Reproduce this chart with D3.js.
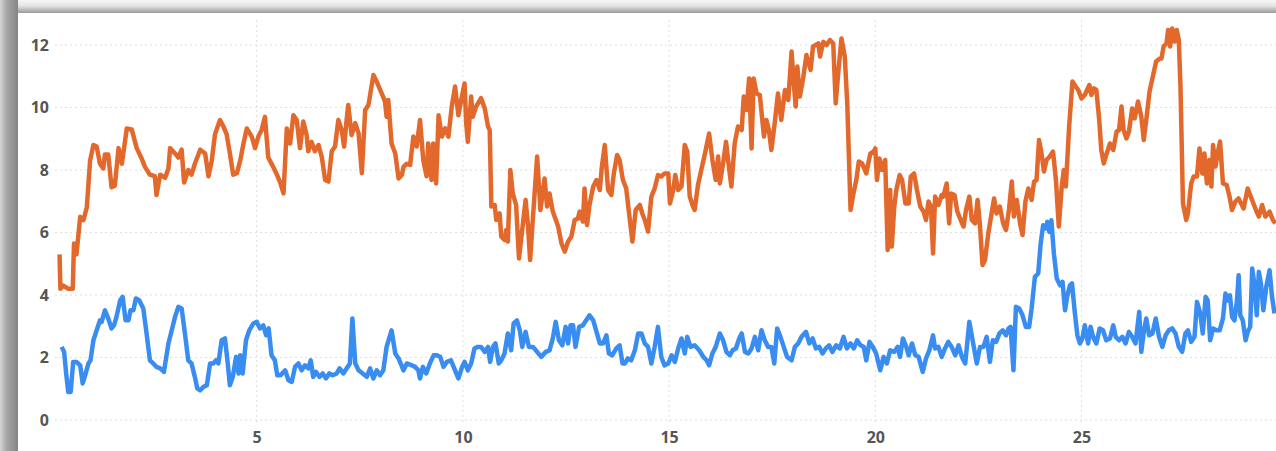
<!DOCTYPE html>
<html>
<head>
<meta charset="utf-8">
<script src="https://cdn.jsdelivr.net/npm/d3@7"></script>
<style>
  html, body { margin: 0; padding: 0; background: #ffffff; }
  svg { display: block; }
</style>
</head>
<body>
<div id="chart"></div>
<script>
// ---- data (day of month, value) ----
const xTicks = [5, 10, 15, 20, 25];
const yTicks = [0, 2, 4, 6, 8, 10, 12];

const orangeSeries = [[0.22,5.3],[0.24,4.2],[0.31,4.3],[0.43,4.2],[0.54,4.2],[0.57,5.65],[0.63,5.3],[0.72,6.5],[0.80,6.4],[0.88,6.8],[0.96,8.3],[1.04,8.8],[1.12,8.75],[1.20,8.2],[1.28,8.05],[1.32,8.5],[1.40,8.5],[1.48,7.45],[1.56,7.5],[1.65,8.7],[1.73,8.2],[1.85,9.33],[1.97,9.3],[2.09,8.7],[2.21,8.37],[2.29,8.1],[2.41,7.85],[2.53,7.8],[2.57,7.2],[2.66,7.85],[2.78,7.75],[2.86,8.05],[2.90,8.7],[3.02,8.53],[3.10,8.4],[3.18,8.65],[3.24,7.6],[3.34,8.0],[3.42,7.85],[3.50,8.2],[3.63,8.65],[3.75,8.53],[3.83,7.8],[3.91,8.3],[3.99,9.15],[4.11,9.6],[4.19,9.4],[4.27,9.15],[4.35,8.53],[4.43,7.85],[4.52,7.9],[4.60,8.3],[4.68,8.85],[4.76,9.33],[4.88,9.07],[4.96,8.7],[5.04,9.07],[5.12,9.28],[5.20,9.7],[5.28,8.4],[5.40,8.1],[5.49,7.85],[5.57,7.6],[5.65,7.25],[5.73,9.33],[5.81,8.85],[5.89,9.75],[5.97,9.6],[6.05,8.7],[6.13,9.55],[6.21,9.12],[6.25,8.6],[6.33,8.9],[6.41,8.6],[6.50,8.8],[6.58,8.4],[6.66,7.68],[6.74,7.63],[6.82,8.6],[6.90,8.75],[6.98,9.6],[7.06,9.28],[7.12,8.75],[7.18,9.6],[7.22,10.08],[7.30,9.12],[7.39,9.5],[7.47,9.17],[7.55,7.9],[7.63,9.92],[7.71,10.08],[7.83,11.04],[7.91,10.83],[8.03,10.45],[8.11,10.2],[8.15,9.7],[8.19,10.24],[8.27,8.85],[8.36,8.53],[8.44,7.73],[8.52,7.84],[8.56,8.1],[8.64,8.2],[8.72,8.16],[8.80,9.07],[8.88,8.75],[8.96,9.6],[9.04,8.3],[9.12,7.8],[9.16,8.85],[9.24,7.68],[9.28,8.85],[9.35,7.57],[9.41,9.75],[9.49,9.07],[9.57,9.33],[9.65,9.07],[9.73,10.03],[9.81,10.67],[9.89,9.75],[9.96,10.24],[10.04,10.77],[10.08,9.5],[10.12,8.9],[10.20,10.35],[10.24,9.7],[10.32,10.03],[10.44,10.3],[10.53,9.97],[10.61,9.39],[10.65,9.28],[10.69,6.83],[10.77,6.88],[10.81,6.4],[10.89,6.61],[10.93,5.87],[11.01,5.76],[11.05,6.08],[11.09,5.71],[11.15,8.0],[11.21,7.25],[11.29,6.88],[11.36,5.17],[11.42,5.87],[11.52,7.04],[11.58,6.19],[11.63,5.12],[11.70,6.51],[11.80,8.43],[11.88,6.72],[11.98,7.73],[12.04,6.83],[12.10,7.25],[12.18,6.67],[12.31,6.19],[12.39,5.65],[12.47,5.39],[12.55,5.71],[12.63,5.87],[12.71,6.4],[12.79,6.45],[12.83,6.67],[12.91,6.35],[12.95,7.41],[13.01,6.24],[13.07,6.88],[13.16,7.47],[13.24,7.68],[13.32,7.36],[13.37,8.11],[13.44,8.8],[13.52,7.36],[13.60,7.2],[13.66,7.89],[13.74,8.48],[13.80,8.32],[13.88,7.68],[13.96,7.41],[14.03,6.61],[14.11,5.71],[14.19,6.72],[14.29,6.88],[14.35,6.61],[14.41,6.4],[14.49,6.03],[14.57,7.15],[14.65,7.41],[14.73,7.84],[14.81,7.79],[14.89,7.89],[14.98,7.89],[15.02,6.93],[15.10,7.36],[15.15,7.84],[15.22,7.36],[15.30,7.47],[15.38,8.8],[15.44,8.59],[15.50,7.15],[15.58,6.83],[15.62,6.72],[15.70,7.52],[15.78,8.0],[15.87,8.53],[15.97,9.17],[16.05,8.32],[16.13,7.68],[16.19,8.43],[16.23,7.57],[16.31,8.21],[16.38,8.9],[16.46,8.0],[16.51,7.47],[16.59,8.85],[16.67,9.39],[16.76,9.28],[16.81,10.35],[16.88,9.92],[16.94,10.93],[17.00,8.69],[17.05,10.93],[17.12,10.45],[17.20,10.4],[17.30,9.07],[17.36,9.6],[17.42,9.28],[17.48,8.64],[17.56,9.49],[17.64,10.45],[17.72,9.6],[17.81,10.56],[17.89,10.24],[17.97,11.79],[18.03,10.67],[18.07,10.03],[18.11,11.31],[18.17,10.35],[18.25,10.93],[18.33,11.68],[18.43,11.2],[18.49,11.95],[18.62,12.05],[18.66,11.63],[18.74,12.1],[18.82,12.0],[18.90,12.16],[18.98,12.05],[19.04,10.13],[19.10,11.09],[19.18,12.21],[19.26,11.63],[19.32,10.13],[19.40,6.72],[19.47,7.25],[19.54,7.68],[19.60,8.27],[19.68,8.21],[19.78,7.89],[19.88,8.53],[19.96,8.59],[20.00,8.69],[20.04,7.68],[20.10,8.37],[20.16,8.0],[20.24,8.32],[20.30,5.44],[20.36,7.36],[20.40,5.55],[20.46,6.83],[20.51,7.36],[20.59,7.84],[20.65,7.68],[20.73,6.93],[20.81,6.93],[20.86,7.79],[20.94,7.89],[21.01,7.36],[21.09,6.83],[21.17,6.67],[21.23,6.4],[21.29,6.99],[21.35,6.83],[21.40,5.33],[21.45,7.15],[21.53,6.88],[21.61,7.2],[21.65,7.15],[21.73,7.57],[21.79,6.29],[21.84,7.25],[21.92,7.2],[21.99,6.67],[22.07,6.4],[22.14,6.19],[22.20,6.72],[22.28,7.15],[22.34,6.4],[22.42,6.29],[22.48,7.04],[22.54,6.19],[22.60,4.96],[22.66,5.12],[22.74,5.97],[22.82,6.61],[22.88,7.09],[22.94,6.61],[23.02,6.83],[23.10,6.29],[23.17,6.08],[23.24,6.72],[23.31,7.63],[23.36,6.51],[23.43,7.04],[23.51,6.29],[23.57,5.92],[23.64,6.99],[23.71,7.41],[23.79,7.04],[23.85,7.63],[23.91,7.68],[23.97,8.96],[24.03,8.53],[24.09,7.95],[24.15,8.32],[24.23,8.43],[24.31,8.59],[24.38,7.68],[24.45,6.19],[24.52,7.47],[24.57,8.0],[24.62,7.47],[24.70,9.39],[24.78,10.83],[24.86,10.67],[24.92,10.56],[25.00,10.29],[25.08,10.4],[25.19,10.72],[25.24,10.4],[25.30,10.61],[25.36,10.56],[25.43,9.6],[25.48,8.64],[25.54,8.21],[25.60,8.48],[25.69,8.85],[25.77,8.64],[25.85,9.23],[25.91,9.28],[25.97,10.03],[26.02,9.28],[26.09,9.01],[26.15,9.23],[26.23,9.97],[26.29,9.65],[26.37,10.19],[26.45,9.71],[26.51,8.96],[26.57,9.6],[26.65,10.51],[26.73,10.99],[26.81,11.47],[26.90,11.57],[26.94,11.57],[26.99,11.95],[27.06,12.05],[27.10,12.48],[27.15,11.95],[27.20,12.53],[27.26,12.11],[27.31,12.48],[27.36,12.16],[27.40,10.67],[27.46,6.93],[27.54,6.4],[27.58,6.61],[27.66,7.57],[27.72,7.79],[27.80,7.79],[27.86,8.69],[27.93,7.89],[27.98,8.53],[28.04,7.57],[28.10,8.32],[28.15,7.47],[28.19,8.8],[28.25,8.11],[28.31,8.59],[28.36,8.91],[28.43,7.57],[28.52,7.52],[28.59,7.15],[28.65,6.72],[28.73,6.99],[28.81,7.09],[28.93,6.77],[29.03,7.41],[29.15,6.99],[29.23,6.72],[29.30,6.51],[29.38,6.88],[29.46,6.51],[29.56,6.67],[29.64,6.4],[29.70,6.29]];

const blueSeries = [[0.27,2.34],[0.33,2.18],[0.38,1.49],[0.43,0.9],[0.49,0.9],[0.55,1.86],[0.63,1.86],[0.72,1.75],[0.78,1.17],[0.84,1.43],[0.92,1.81],[0.97,1.91],[1.04,2.55],[1.12,2.87],[1.20,3.19],[1.24,3.14],[1.32,3.51],[1.40,3.25],[1.48,2.93],[1.54,3.03],[1.60,3.3],[1.69,3.83],[1.75,3.94],[1.82,3.19],[1.89,3.19],[1.94,3.51],[2.01,3.51],[2.07,3.89],[2.15,3.83],[2.25,3.57],[2.33,2.77],[2.41,1.91],[2.49,1.81],[2.57,1.7],[2.66,1.65],[2.75,1.54],[2.86,2.45],[2.94,2.87],[3.02,3.3],[3.10,3.62],[3.18,3.57],[3.26,2.77],[3.34,1.91],[3.42,1.81],[3.50,1.38],[3.56,1.01],[3.63,0.95],[3.71,1.06],[3.79,1.11],[3.87,1.81],[3.95,1.81],[4.01,1.91],[4.07,1.81],[4.15,2.55],[4.23,2.61],[4.29,1.91],[4.35,1.11],[4.42,1.38],[4.50,2.02],[4.56,1.49],[4.60,2.07],[4.66,1.49],[4.74,2.55],[4.82,2.87],[4.92,3.09],[5.00,3.14],[5.08,2.93],[5.16,3.03],[5.23,2.71],[5.29,2.93],[5.36,2.07],[5.44,1.91],[5.50,1.43],[5.58,1.43],[5.69,1.59],[5.77,1.27],[5.85,1.22],[5.93,1.7],[6.01,1.81],[6.09,1.59],[6.17,1.75],[6.25,1.65],[6.31,1.91],[6.37,1.38],[6.44,1.54],[6.52,1.38],[6.60,1.49],[6.68,1.33],[6.76,1.49],[6.84,1.43],[6.94,1.49],[7.01,1.65],[7.10,1.49],[7.18,1.65],[7.26,1.81],[7.32,3.25],[7.39,1.81],[7.47,1.59],[7.57,1.49],[7.67,1.38],[7.75,1.65],[7.83,1.33],[7.91,1.59],[7.99,1.43],[8.07,1.59],[8.15,2.34],[8.27,2.87],[8.36,2.13],[8.44,1.97],[8.56,1.59],[8.64,1.81],[8.76,1.75],[8.84,1.7],[8.92,1.59],[8.96,1.33],[9.03,1.7],[9.11,1.49],[9.20,1.81],[9.29,2.07],[9.37,2.07],[9.45,2.02],[9.53,1.7],[9.61,1.86],[9.71,1.91],[9.81,1.59],[9.89,1.33],[9.98,1.7],[10.04,1.86],[10.12,1.59],[10.20,1.81],[10.28,2.29],[10.36,2.34],[10.44,2.34],[10.53,2.18],[10.61,2.34],[10.66,1.86],[10.73,2.34],[10.79,2.45],[10.87,1.81],[10.93,1.91],[11.01,2.13],[11.09,2.77],[11.17,2.23],[11.23,3.09],[11.31,3.19],[11.38,2.87],[11.44,2.34],[11.52,2.82],[11.60,2.34],[11.70,2.34],[11.80,2.18],[11.90,2.02],[12.01,2.18],[12.10,2.23],[12.18,2.61],[12.25,3.14],[12.33,2.55],[12.41,2.39],[12.49,2.98],[12.55,2.45],[12.61,3.03],[12.67,3.03],[12.73,2.34],[12.82,2.98],[12.91,3.03],[12.99,3.19],[13.07,3.35],[13.16,3.19],[13.24,2.82],[13.32,2.45],[13.40,2.45],[13.48,2.71],[13.54,2.13],[13.62,2.07],[13.72,2.29],[13.80,2.39],[13.87,1.81],[13.93,1.81],[14.00,1.97],[14.08,1.91],[14.17,2.23],[14.25,2.77],[14.33,2.77],[14.41,2.45],[14.49,2.34],[14.57,1.81],[14.65,2.34],[14.73,2.98],[14.81,2.02],[14.89,1.75],[14.98,1.81],[15.06,2.07],[15.14,1.86],[15.22,2.29],[15.30,2.61],[15.38,2.13],[15.44,2.66],[15.52,2.34],[15.62,2.39],[15.73,2.23],[15.83,2.02],[15.91,1.91],[15.97,1.75],[16.05,2.13],[16.13,2.34],[16.23,2.77],[16.31,2.55],[16.39,2.18],[16.47,2.07],[16.54,2.23],[16.62,2.29],[16.70,2.61],[16.76,2.77],[16.84,2.18],[16.92,2.13],[17.00,2.29],[17.08,2.66],[17.16,2.23],[17.24,2.87],[17.32,2.55],[17.40,2.34],[17.48,2.34],[17.55,1.81],[17.62,2.93],[17.70,2.66],[17.78,2.34],[17.86,2.02],[17.97,1.91],[18.05,2.34],[18.13,2.45],[18.21,2.66],[18.32,2.82],[18.40,2.45],[18.48,2.61],[18.56,2.29],[18.64,2.34],[18.72,2.13],[18.80,2.29],[18.88,2.39],[18.96,2.18],[19.05,2.39],[19.14,2.29],[19.23,2.66],[19.31,2.29],[19.40,2.45],[19.48,2.29],[19.56,2.55],[19.64,2.39],[19.72,2.34],[19.78,1.91],[19.86,2.5],[19.94,2.34],[20.02,2.13],[20.12,1.59],[20.20,2.02],[20.28,1.81],[20.36,2.23],[20.46,2.18],[20.54,2.34],[20.60,2.02],[20.67,2.61],[20.75,2.34],[20.81,2.07],[20.89,2.45],[20.97,2.07],[21.05,2.02],[21.15,1.54],[21.23,1.97],[21.31,2.23],[21.40,2.71],[21.45,2.29],[21.53,2.34],[21.61,2.02],[21.69,2.29],[21.77,2.5],[21.85,2.34],[21.94,2.07],[22.02,2.39],[22.10,2.02],[22.18,1.81],[22.28,3.14],[22.36,2.55],[22.46,1.81],[22.54,2.34],[22.62,2.34],[22.70,2.66],[22.78,1.86],[22.85,2.55],[22.93,2.5],[23.01,2.77],[23.09,2.87],[23.17,2.71],[23.23,2.93],[23.28,2.98],[23.35,1.59],[23.41,3.62],[23.49,3.57],[23.57,3.35],[23.65,2.98],[23.73,2.98],[23.79,3.57],[23.87,4.58],[23.95,4.69],[24.01,5.65],[24.07,6.23],[24.14,6.13],[24.17,6.34],[24.22,6.02],[24.27,6.39],[24.33,5.33],[24.40,4.53],[24.48,4.31],[24.54,4.42],[24.60,3.51],[24.65,3.94],[24.72,4.31],[24.77,4.37],[24.84,3.41],[24.90,2.71],[24.96,2.45],[25.02,2.61],[25.08,3.03],[25.16,2.45],[25.22,2.98],[25.28,2.66],[25.36,2.45],[25.44,2.93],[25.52,2.87],[25.60,2.55],[25.69,2.61],[25.77,3.03],[25.83,2.66],[25.91,2.55],[25.99,2.66],[26.07,2.45],[26.15,2.82],[26.23,2.66],[26.31,2.45],[26.40,3.46],[26.45,2.18],[26.51,2.82],[26.57,3.25],[26.64,2.71],[26.72,2.77],[26.80,3.25],[26.88,2.66],[26.96,2.34],[27.04,2.71],[27.12,2.87],[27.20,2.93],[27.28,2.77],[27.36,2.34],[27.44,2.18],[27.52,2.77],[27.58,2.87],[27.66,2.5],[27.74,2.66],[27.80,3.78],[27.88,3.41],[27.94,2.77],[28.01,3.94],[28.06,3.83],[28.12,2.55],[28.19,2.93],[28.27,2.87],[28.35,2.87],[28.43,3.25],[28.49,4.05],[28.55,3.83],[28.60,3.99],[28.65,3.3],[28.71,3.19],[28.77,3.83],[28.81,4.63],[28.85,3.35],[28.91,3.19],[28.98,2.55],[29.03,2.82],[29.09,2.98],[29.14,4.85],[29.19,4.37],[29.25,3.35],[29.30,4.74],[29.35,4.37],[29.41,3.51],[29.48,4.26],[29.56,4.79],[29.62,3.94],[29.68,3.41]];

// ---- drawing ----
const W = 1276, H = 451;
const svg = d3.select("#chart").append("svg").attr("width", W).attr("height", H);
const defs = svg.append("defs");

const gTop = defs.append("linearGradient").attr("id", "gTop").attr("x1", 0).attr("y1", 0).attr("x2", 0).attr("y2", 1);
gTop.append("stop").attr("offset", "0%").attr("stop-color", "#f7f7f7");
gTop.append("stop").attr("offset", "45%").attr("stop-color", "#e4e4e4");
gTop.append("stop").attr("offset", "100%").attr("stop-color", "#9a9a9a");
const gLeft = defs.append("linearGradient").attr("id", "gLeft").attr("x1", 0).attr("y1", 0).attr("x2", 1).attr("y2", 0);
gLeft.append("stop").attr("offset", "0%").attr("stop-color", "#d6d6d6");
gLeft.append("stop").attr("offset", "35%").attr("stop-color", "#a8a8a8");
gLeft.append("stop").attr("offset", "100%").attr("stop-color", "#858585");

svg.append("rect").attr("x", 0).attr("y", 0).attr("width", W).attr("height", H).attr("fill", "#ffffff");
svg.append("rect").attr("x", 0).attr("y", 0).attr("width", W).attr("height", 13).attr("fill", "url(#gTop)");
svg.append("rect").attr("x", 0).attr("y", 0).attr("width", 18).attr("height", H).attr("fill", "url(#gLeft)");

const x = d3.scaleLinear().domain([0, 30]).range([50.5, 50.5 + 41.24 * 30]);
const y = d3.scaleLinear().domain([0, 12]).range([420, 45]);

// grid
const grid = svg.append("g");
grid.selectAll("line.h").data(yTicks).join("line")
  .attr("x1", 55).attr("x2", W).attr("y1", d => y(d)).attr("y2", d => y(d))
  .attr("stroke", "#dedede").attr("stroke-width", 1).attr("stroke-dasharray", "2,3");
grid.selectAll("line.v").data(xTicks).join("line")
  .attr("x1", d => x(d)).attr("x2", d => x(d)).attr("y1", 20).attr("y2", 424)
  .attr("stroke", "#dedede").attr("stroke-width", 1).attr("stroke-dasharray", "2,3");

// axes
const yAxis = svg.append("g").attr("transform", "translate(52,0)")
  .call(d3.axisLeft(y).tickValues(yTicks).tickSize(0).tickPadding(3));
const xAxis = svg.append("g").attr("transform", "translate(0,420)")
  .call(d3.axisBottom(x).tickValues(xTicks).tickSize(0).tickPadding(12));
[yAxis, xAxis].forEach(g => {
  g.select(".domain").remove();
  g.selectAll("text").attr("fill", "#555").style("font-family", "'Open Sans', sans-serif")
    .style("font-size", "16px").style("font-weight", 700);
});

// lines
const line = d3.line().x(d => x(d[0])).y(d => y(d[1]));
svg.append("path").datum(orangeSeries).attr("d", line)
  .attr("fill", "none").attr("stroke", "#E2692B").attr("stroke-width", 4.5)
  .attr("stroke-linejoin", "round").attr("stroke-linecap", "butt");
svg.append("path").datum(blueSeries).attr("d", line)
  .attr("fill", "none").attr("stroke", "#3A8DF0").attr("stroke-width", 4.5)
  .attr("stroke-linejoin", "round").attr("stroke-linecap", "butt");
</script>
</body>
</html>
